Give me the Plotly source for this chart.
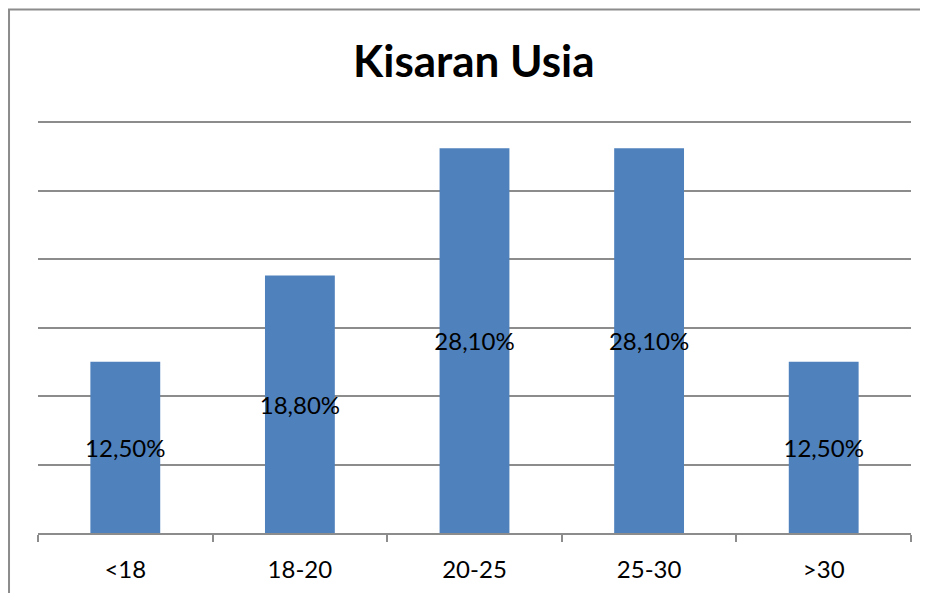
import plotly.graph_objects as go

kategori = ["<18", "18-20", "20-25", "25-30", ">30"]
persen = [12.5, 18.8, 28.1, 28.1, 12.5]
label = ["12,50%", "18,80%", "28,10%", "28,10%", "12,50%"]

fig = go.Figure()

fig.add_trace(go.Bar(
    x=kategori,
    y=persen,
    text=label,
    textposition="inside",
    insidetextanchor="middle",
    constraintext="none",
    textangle=0,
    insidetextfont=dict(color="black", size=24, family="Lato"),
    marker=dict(color="#4F81BD", line=dict(width=0)),
    width=0.4,
    hoverinfo="skip",
))

# bingkai grafik (halaman punya margin 8px, jadi semua digeser)
fig.add_shape(type="rect", xref="paper", yref="paper",
              x0=-0.0332, x1=1.1, y0=-0.3, y1=1.2614,
              line=dict(color="#8c8c8c", width=2), layer="below")

fig.update_layout(
    width=928, height=593,
    margin=dict(l=30, r=25, t=110, b=68),
    paper_bgcolor="white",
    plot_bgcolor="white",
    showlegend=False,
    title=dict(text="<b>Kisaran Usia</b>", x=0.502, xanchor="center",
               y=0.909, yanchor="middle",
               font=dict(family="Lato", size=44, color="black")),
    xaxis=dict(
        showline=True, linecolor="#8c8c8c", linewidth=1.5,
        ticks="outside", tickson="boundaries", ticklen=7,
        tickcolor="#8c8c8c", tickwidth=1.5,
        tickfont=dict(family="Lato", size=24, color="black"),
        ticklabelstandoff=14,
        showgrid=False,
    ),
    yaxis=dict(
        range=[0, 30.3], dtick=5, showticklabels=False,
        showgrid=True, gridcolor="#8c8c8c", gridwidth=1.5,
        zeroline=False, showline=False, ticks="",
    ),
)

fig.write_html("out.html")
